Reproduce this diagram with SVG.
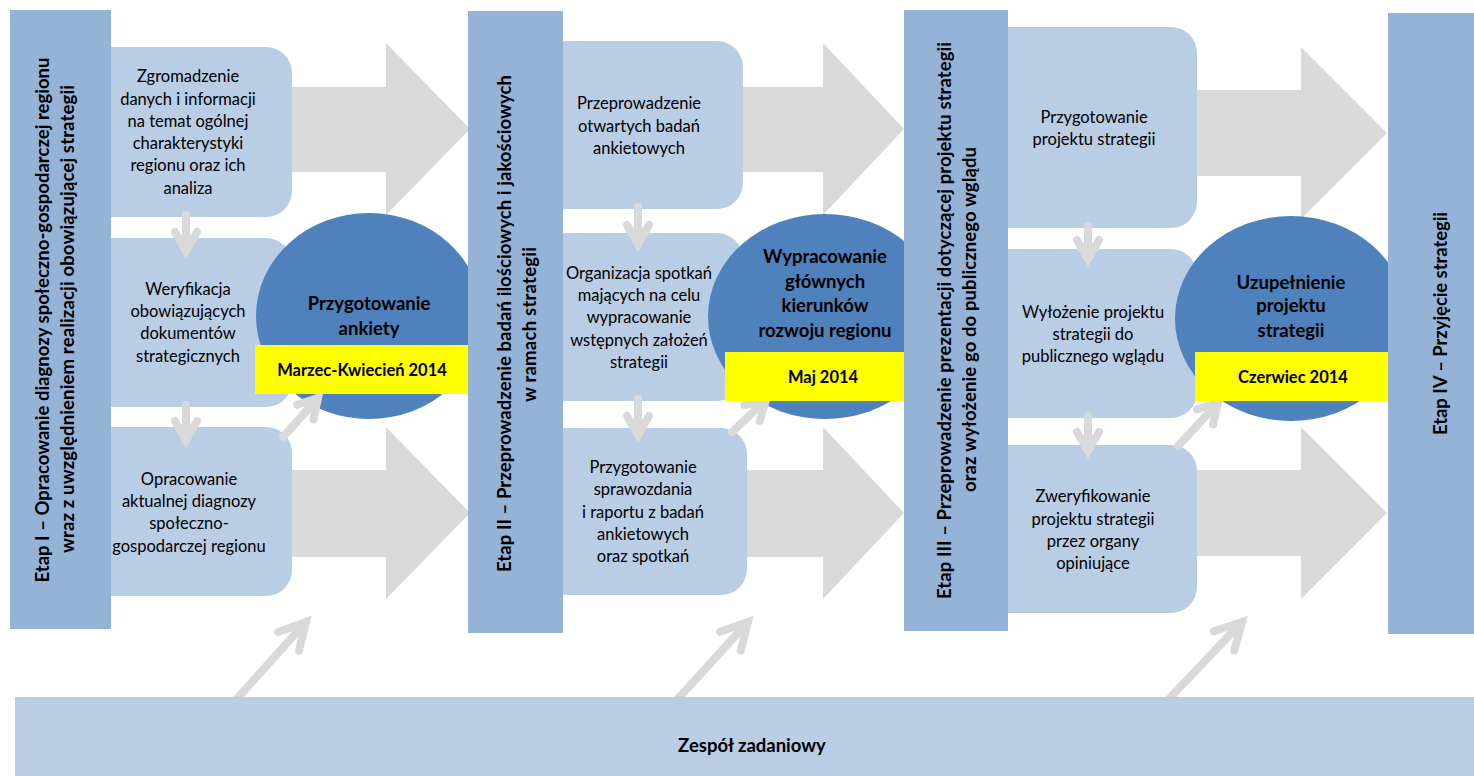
<svg xmlns="http://www.w3.org/2000/svg" width="1474" height="776" viewBox="0 0 1474 776">
  <style>
    .bar { fill: #95B3D7; }
    .box { fill: #B9CDE5; }
    .circ { fill: #4F81BD; }
    .yel { fill: #FFFF00; }
    .blk { fill: #D9D9D9; }
    .team { fill: #B9CDE5; }
    .conn { fill: none; stroke: #D9D9D9; stroke-width: 8; stroke-linecap: round; }
    .t { font-family: Lato, "Noto Sans", "DejaVu Sans", sans-serif; font-size: 16.5px; fill: #000; text-anchor: middle; }
    .b { font-weight: 700; font-size: 18.5px; }
    .y { font-weight: 700; font-size: 16.5px; }
    .v { font-weight: 700; font-size: 18.5px; }
  </style>
  <defs>
    <marker id="headS" markerUnits="userSpaceOnUse" markerWidth="1" markerHeight="1" refX="0" refY="0" orient="auto" overflow="visible">
      <path d="M-19,-11 L0,0 L-19,11" fill="none" stroke="#D9D9D9" stroke-width="8" stroke-linecap="round" stroke-linejoin="miter"/>
    </marker>
    <marker id="headL" markerUnits="userSpaceOnUse" markerWidth="1" markerHeight="1" refX="0" refY="0" orient="auto" overflow="visible">
      <path d="M-26,-14 L0,0 L-26,14" fill="none" stroke="#D9D9D9" stroke-width="8" stroke-linecap="round" stroke-linejoin="miter"/>
    </marker>
  </defs>

  <g id="flow-arrows">
    <polygon class="blk" points="280,87 386,87 386,43 470,129 386,215 386,172 280,172"/>
    <polygon class="blk" points="280,470 386,470 386,427 470,513 386,599 386,557 280,557"/>
    <polygon class="blk" points="730,87 823,87 823,43 904,129 823,215 823,172 730,172"/>
    <polygon class="blk" points="735,470 823,470 823,427 904,513 823,599 823,557 735,557"/>
    <polygon class="blk" points="1185,90 1301,90 1301,47 1387,133 1301,219 1301,176 1185,176"/>
    <polygon class="blk" points="1185,470 1301,470 1301,427 1387,513 1301,599 1301,556 1185,556"/>
  </g>

  <g id="box-zgromadzenie">
    <rect class="box" x="80" y="47" width="212" height="170" rx="26"/>
    <text class="t"><tspan x="188" y="82">Zgromadzenie</tspan><tspan x="188" y="105">danych i informacji</tspan><tspan x="188" y="127">na temat ogólnej</tspan><tspan x="188" y="149">charakterystyki</tspan><tspan x="188" y="171">regionu oraz ich</tspan><tspan x="188" y="194">analiza</tspan></text>
  </g>
  <g id="box-weryfikacja">
    <rect class="box" x="80" y="238" width="212" height="169" rx="26"/>
    <text class="t"><tspan x="188" y="295">Weryfikacja</tspan><tspan x="188" y="317">obowiązujących</tspan><tspan x="188" y="339">dokumentów</tspan><tspan x="188" y="362">strategicznych</tspan></text>
  </g>
  <g id="box-opracowanie">
    <rect class="box" x="80" y="427" width="212" height="169" rx="26"/>
    <text class="t"><tspan x="189" y="485">Opracowanie</tspan><tspan x="189" y="507">aktualnej diagnozy</tspan><tspan x="189" y="529">społeczno-</tspan><tspan x="189" y="552">gospodarczej regionu</tspan></text>
  </g>

  <g id="box-przeprowadzenie">
    <rect class="box" x="530" y="41" width="213" height="168" rx="26"/>
    <text class="t"><tspan x="639" y="109">Przeprowadzenie</tspan><tspan x="639" y="132">otwartych badań</tspan><tspan x="639" y="154">ankietowych</tspan></text>
  </g>
  <g id="box-organizacja">
    <rect class="box" x="530" y="233" width="213" height="168" rx="26"/>
    <text class="t"><tspan x="639" y="279">Organizacja spotkań</tspan><tspan x="639" y="301">mających na celu</tspan><tspan x="639" y="323">wypracowanie</tspan><tspan x="639" y="346">wstępnych założeń</tspan><tspan x="639" y="368">strategii</tspan></text>
  </g>
  <g id="box-sprawozdanie">
    <rect class="box" x="530" y="428" width="217" height="167" rx="26"/>
    <text class="t"><tspan x="643" y="473">Przygotowanie</tspan><tspan x="643" y="495">sprawozdania</tspan><tspan x="643" y="518">i raportu z badań</tspan><tspan x="643" y="540">ankietowych</tspan><tspan x="643" y="562">oraz spotkań</tspan></text>
  </g>

  <g id="box-projekt">
    <rect class="box" x="975" y="27" width="222" height="201" rx="26"/>
    <text class="t"><tspan x="1094" y="123">Przygotowanie</tspan><tspan x="1094" y="145">projektu strategii</tspan></text>
  </g>
  <g id="box-wylozenie">
    <rect class="box" x="975" y="249" width="222" height="169" rx="26"/>
    <text class="t"><tspan x="1093" y="318">Wyłożenie projektu</tspan><tspan x="1093" y="340">strategii do</tspan><tspan x="1093" y="362">publicznego wglądu</tspan></text>
  </g>
  <g id="box-zweryfikowanie">
    <rect class="box" x="975" y="445" width="222" height="168" rx="26"/>
    <text class="t"><tspan x="1093" y="502">Zweryfikowanie</tspan><tspan x="1093" y="525">projektu strategii</tspan><tspan x="1093" y="547">przez organy</tspan><tspan x="1093" y="569">opiniujące</tspan></text>
  </g>

  <g id="circle-ankiety">
    <ellipse class="circ" cx="369" cy="316" rx="113" ry="103"/>
    <text class="t b"><tspan x="369" y="310">Przygotowanie</tspan><tspan x="369" y="335">ankiety</tspan></text>
  </g>
  <g id="circle-kierunki">
    <ellipse class="circ" cx="825" cy="316.5" rx="117" ry="102.5"/>
    <text class="t b"><tspan x="825" y="263">Wypracowanie</tspan><tspan x="825" y="288">głównych</tspan><tspan x="825" y="312">kierunków</tspan><tspan x="825" y="337">rozwoju regionu</tspan></text>
  </g>
  <g id="circle-uzupelnienie">
    <ellipse class="circ" cx="1291" cy="318.5" rx="116" ry="102.5"/>
    <text class="t b"><tspan x="1291" y="289">Uzupełnienie</tspan><tspan x="1291" y="312">projektu</tspan><tspan x="1291" y="337">strategii</tspan></text>
  </g>

  <g id="connectors">
    <line class="conn" x1="186" y1="215" x2="186" y2="251" marker-end="url(#headS)"/>
    <line class="conn" x1="186" y1="405" x2="186" y2="440" marker-end="url(#headS)"/>
    <line class="conn" x1="638" y1="207" x2="638" y2="244" marker-end="url(#headS)"/>
    <line class="conn" x1="638" y1="399" x2="638" y2="435" marker-end="url(#headS)"/>
    <line class="conn" x1="1088" y1="226" x2="1088" y2="259" marker-end="url(#headS)"/>
    <line class="conn" x1="1088" y1="416" x2="1088" y2="451" marker-end="url(#headS)"/>
    <line class="conn" x1="283" y1="437" x2="318" y2="398" marker-end="url(#headS)"/>
    <line class="conn" x1="732" y1="432" x2="766" y2="400" marker-end="url(#headS)"/>
    <line class="conn" x1="1178" y1="446" x2="1218" y2="403" marker-end="url(#headS)"/>
    <line class="conn" x1="234" y1="702" x2="306" y2="622" marker-end="url(#headL)"/>
    <line class="conn" x1="675" y1="702" x2="748" y2="622" marker-end="url(#headL)"/>
    <line class="conn" x1="1166" y1="702" x2="1242" y2="622" marker-end="url(#headL)"/>
  </g>

  <g id="date-marzec">
    <rect class="yel" x="255" y="345" width="215" height="49"/>
    <text class="t y" x="362" y="376">Marzec-Kwiecień 2014</text>
  </g>
  <g id="date-maj">
    <rect class="yel" x="725" y="352" width="196" height="49"/>
    <text class="t y" x="823" y="383">Maj 2014</text>
  </g>
  <g id="date-czerwiec">
    <rect class="yel" x="1195" y="352" width="196" height="49"/>
    <text class="t y" x="1293" y="383">Czerwiec 2014</text>
  </g>

  <g id="etap-1">
    <rect class="bar" x="10" y="10" width="101" height="619"/>
    <text class="t v" transform="translate(49,320) rotate(-90)" textLength="525">Etap I – Opracowanie diagnozy społeczno-gospodarczej regionu</text>
    <text class="t v" transform="translate(74,319) rotate(-90)" textLength="468">wraz z uwzględnieniem realizacji obowiązującej strategii</text>
  </g>
  <g id="etap-2">
    <rect class="bar" x="468" y="11" width="95" height="622"/>
    <text class="t v" transform="translate(511,323.5) rotate(-90)" textLength="497">Etap II – Przeprowadzenie badań ilościowych i jakościowych</text>
    <text class="t v" transform="translate(536,324.5) rotate(-90)" textLength="155">w ramach strategii</text>
  </g>
  <g id="etap-3">
    <rect class="bar" x="904" y="10" width="104" height="621"/>
    <text class="t v" transform="translate(951,320.5) rotate(-90)" textLength="557">Etap III – Przeprowadzenie prezentacji dotyczącej projektu strategii</text>
    <text class="t v" transform="translate(976,319.5) rotate(-90)" textLength="345">oraz wyłożenie go do publicznego wglądu</text>
  </g>
  <g id="etap-4">
    <rect class="bar" x="1388" y="13" width="86" height="621"/>
    <text class="t v" transform="translate(1447,323.5) rotate(-90)" textLength="223">Etap IV – Przyjęcie strategii</text>
  </g>

  <g id="zespol">
    <rect class="team" x="15" y="697" width="1459" height="79"/>
    <text class="t b" x="752" y="752">Zespół zadaniowy</text>
  </g>
</svg>
